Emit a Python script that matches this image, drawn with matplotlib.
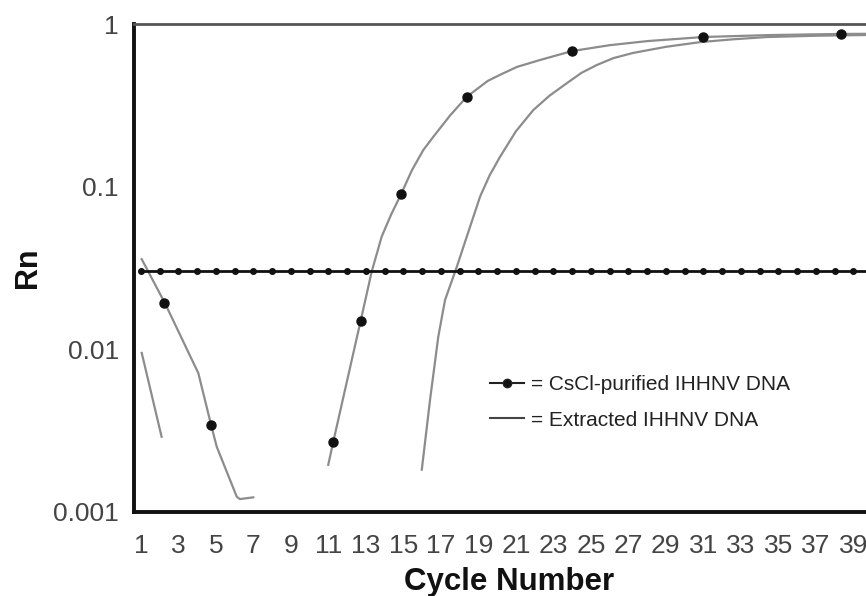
import matplotlib
matplotlib.use("Agg")
import matplotlib.pyplot as plt
from matplotlib.lines import Line2D

plt.rcParams['font.family'] = ['Liberation Sans', 'DejaVu Sans']

# ---- data ----
cscl_early_x = [1.04, 2.28, 4.06, 4.74, 5.04, 6.11, 6.28, 6.99]
cscl_early_y = [0.0358, 0.0192, 0.00713, 0.00343, 0.00252, 0.00124, 0.00120, 0.00123]

cscl_rise_x = [10.99, 11.26, 11.9, 12.72, 13.31, 13.84, 14.35, 14.87, 15.45, 16.06, 16.60, 17.5,
               18.38, 19.5, 20.2, 21.06, 22.29, 24.0, 26.0, 28.0, 31.0, 34.5, 38.35, 40.6]
cscl_rise_y = [0.00195, 0.00271, 0.00574, 0.0150, 0.0301, 0.0493, 0.0676, 0.0897, 0.126, 0.168,
               0.203, 0.275, 0.357, 0.447, 0.490, 0.545, 0.601, 0.682, 0.741, 0.785,
               0.832, 0.855, 0.869, 0.871]

cscl_dot_x = [2.25, 4.74, 11.26, 12.72, 14.87, 18.38, 24.0, 31.0, 38.35]
cscl_dot_y = [0.0194, 0.00343, 0.00271, 0.0150, 0.0897, 0.357, 0.682, 0.832, 0.869]

extr_early_x = [1.04, 2.10]
extr_early_y = [0.0095, 0.0029]

extr_rise_x = [15.98, 16.42, 16.86, 17.22, 17.85, 18.38, 19.09, 19.6, 20.16, 21.0, 21.93, 22.8,
               23.72, 24.5, 25.32, 26.2, 27.25, 29.0, 30.83, 32.5, 34.4, 37.0, 40.6]
extr_rise_y = [0.00182, 0.00489, 0.01197, 0.0201, 0.0322, 0.0493, 0.0869, 0.1175, 0.153, 0.219,
               0.296, 0.363, 0.433, 0.501, 0.560, 0.617, 0.664, 0.724, 0.774, 0.804,
               0.832, 0.847, 0.859]

threshold_x = list(range(1, 41))
threshold_y = [0.0305] * len(threshold_x)

xtick_vals = list(range(1, 40, 2))
ytick_vals = [0.001, 0.01, 0.1, 1]
ytick_labels = ['0.001', '0.01', '0.1', '1']

legend_labels = ['= CsCl-purified IHHNV DNA', '= Extracted IHHNV DNA']

# ---- figure ----
fig = plt.figure(figsize=(8.66, 5.96), dpi=100)
ax = fig.add_axes([0.1547, 0.141, 0.8653, 0.8187])

line_gray = '#8c8c8c'
ax.plot(cscl_early_x, cscl_early_y, color=line_gray, lw=1.6)
ax.plot(cscl_rise_x, cscl_rise_y, color=line_gray, lw=1.6)
ax.plot(extr_early_x, extr_early_y, color=line_gray, lw=1.6)
ax.plot(extr_rise_x, extr_rise_y, color=line_gray, lw=1.6)
ax.plot(threshold_x, threshold_y, color='#111111', lw=2.0, marker='o',
        markersize=4.0, markerfacecolor='#111111', markeredgecolor='#111111', zorder=3)
ax.plot(cscl_dot_x, cscl_dot_y, linestyle='none', marker='o', markersize=6.5,
        color='#111111', zorder=4)

ax.set_yscale('log')
ax.set_xlim(0.626, 40.6)
ax.set_ylim(0.001, 1)
ax.set_yticks(ytick_vals)
ax.set_yticklabels(ytick_labels)
ax.yaxis.set_minor_locator(matplotlib.ticker.NullLocator())
ax.set_xticks(xtick_vals)
ax.set_xticklabels([str(v) for v in xtick_vals])

ax.tick_params(axis='both', length=0, labelsize=19, colors='#444444')
ax.tick_params(axis='x', pad=16)
ax.tick_params(axis='y', pad=11)

for s in ['left', 'bottom']:
    ax.spines[s].set_linewidth(2.8)
    ax.spines[s].set_color('#111111')
ax.spines['top'].set_linewidth(2.0)
ax.spines['top'].set_color('#555555')
ax.spines['right'].set_visible(False)

ax.set_xlabel('Cycle Number', fontsize=22.5, fontweight='bold', color='#111111', labelpad=6)
ax.set_ylabel('Rn', fontsize=22, fontweight='bold', color='#111111')
ax.yaxis.set_label_coords(-0.1214, 0.5)

handles = [Line2D([], [], color='#222222', lw=1.5, marker='o', markersize=6, markerfacecolor='#111111'),
           Line2D([], [], color='#444444', lw=1.5)]
ax.legend(handles, legend_labels, loc='upper left', bbox_to_anchor=(480 / 866, 1 - 365 / 596),
          bbox_transform=fig.transFigure, frameon=False, fontsize=15, handlelength=1.6,
          handletextpad=0.35, labelspacing=0.78, borderpad=0, labelcolor='#222222')

fig.savefig('out.png', dpi=100)
